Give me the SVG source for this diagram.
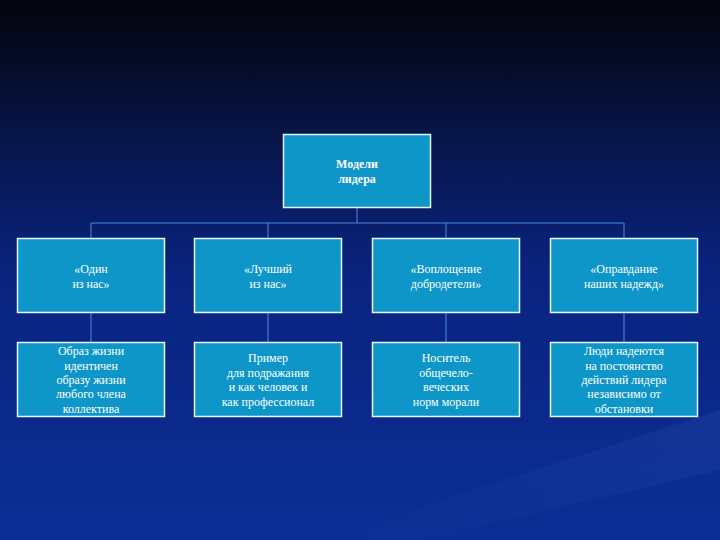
<svg xmlns="http://www.w3.org/2000/svg" width="720" height="540" viewBox="0 0 720 540">
<defs>
<linearGradient id="bg" x1="0" y1="0" x2="0" y2="1">
<stop offset="0" stop-color="#03040c"/>
<stop offset="0.25" stop-color="#071548"/>
<stop offset="0.5" stop-color="#0a237e"/>
<stop offset="1" stop-color="#0b2f96"/>
</linearGradient>
<linearGradient id="streak" x1="0" y1="1" x2="1" y2="0">
<stop offset="0" stop-color="#2a4fb0" stop-opacity="0"/>
<stop offset="0.6" stop-color="#3a5fc0" stop-opacity="0.12"/>
<stop offset="1" stop-color="#4a6fd0" stop-opacity="0.15"/>
</linearGradient>
</defs>
<style>
.box{fill:#0e96c9;stroke:#e6f4fb;stroke-width:1.5}
.t{font-family:"Liberation Serif","Times New Roman",serif;font-size:12px;fill:#ffffff;text-anchor:middle}
.b{font-weight:bold}
.c{stroke:#4f8ad6;stroke-width:1;fill:none}
</style>
<rect width="720" height="540" fill="url(#bg)"/>
<polygon points="320,540 720,410 720,470 420,540" fill="url(#streak)"/>
<g id="connectors">
<path class="c" d="M357,207.5V223M91,223H624M91,223V238M268,223V238M446,223V238M624,223V238"/>
<path class="c" d="M91,312V342M268,312V342M446,312V342M624,312V342"/>
</g>
<g id="root">
<rect class="box" x="283.5" y="134.5" width="147" height="73"/>
<text class="t b" x="357" y="168">Модели</text>
<text class="t b" x="357" y="183">лидера</text>
</g>
<g id="n1">
<rect class="box" x="17.5" y="238.5" width="147" height="74"/>
<text class="t" x="91" y="273">«Один</text>
<text class="t" x="91" y="288">из нас»</text>
</g>
<g id="n2">
<rect class="box" x="194.5" y="238.5" width="147" height="74"/>
<text class="t" x="268" y="273">«Лучший</text>
<text class="t" x="268" y="288">из нас»</text>
</g>
<g id="n3">
<rect class="box" x="372.5" y="238.5" width="147" height="74"/>
<text class="t" x="446" y="273">«Воплощение</text>
<text class="t" x="446" y="288">добродетели»</text>
</g>
<g id="n4">
<rect class="box" x="550.5" y="238.5" width="147" height="74"/>
<text class="t" x="624" y="273">«Оправдание</text>
<text class="t" x="624" y="288">наших надежд»</text>
</g>
<g id="d1">
<rect class="box" x="17.5" y="342.5" width="147" height="74"/>
<text class="t" x="91" y="355">Образ жизни</text>
<text class="t" x="91" y="370">идентичен</text>
<text class="t" x="91" y="384">образу жизни</text>
<text class="t" x="91" y="398">любого члена</text>
<text class="t" x="91" y="413">коллектива</text>
</g>
<g id="d2">
<rect class="box" x="194.5" y="342.5" width="147" height="74"/>
<text class="t" x="268" y="362">Пример</text>
<text class="t" x="268" y="377">для подражания</text>
<text class="t" x="268" y="391">и как человек и</text>
<text class="t" x="268" y="406">как профессионал</text>
</g>
<g id="d3">
<rect class="box" x="372.5" y="342.5" width="147" height="74"/>
<text class="t" x="446" y="362">Носитель</text>
<text class="t" x="446" y="377">общечело-</text>
<text class="t" x="446" y="391">веческих</text>
<text class="t" x="446" y="406">норм морали</text>
</g>
<g id="d4">
<rect class="box" x="550.5" y="342.5" width="147" height="74"/>
<text class="t" x="624" y="355">Люди надеются</text>
<text class="t" x="624" y="370">на постоянство</text>
<text class="t" x="624" y="384">действий лидера</text>
<text class="t" x="624" y="398">независимо от</text>
<text class="t" x="624" y="413">обстановки</text>
</g>
</svg>
